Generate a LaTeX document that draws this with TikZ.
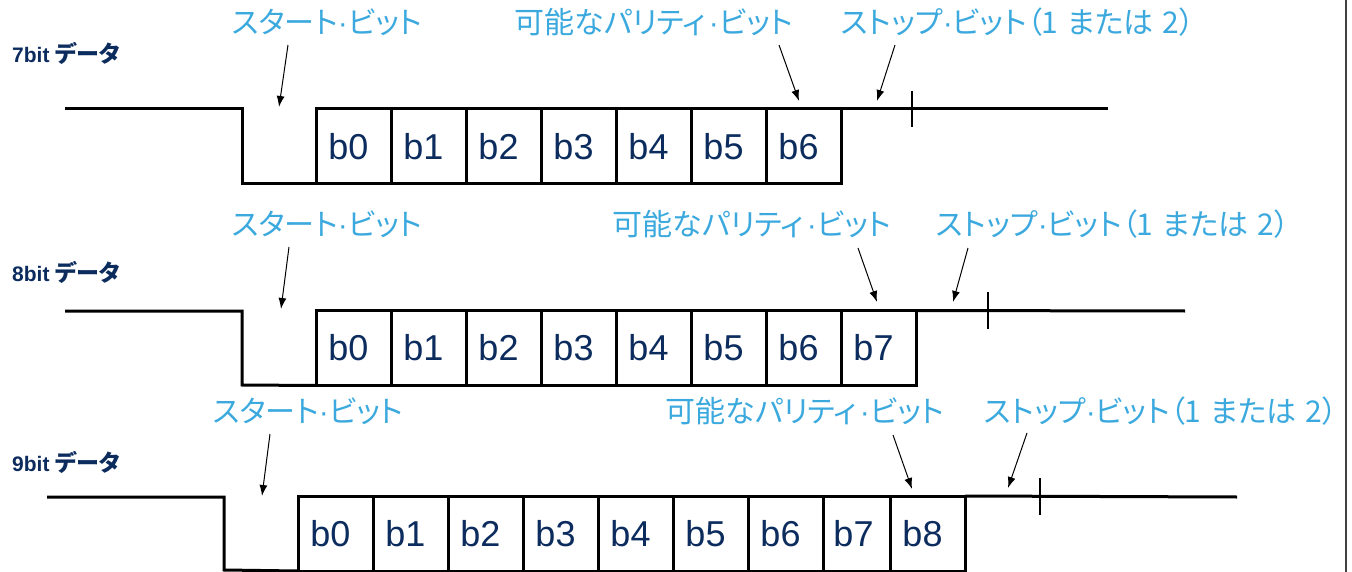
\documentclass[tikz,border=0pt]{standalone}
\usepackage{fontspec}
\setmainfont{Liberation Sans}
\newfontfamily\jp[RawFeature=+palt]{Noto Sans CJK JP}
\usetikzlibrary{arrows.meta}
\definecolor{lblue}{HTML}{3BA9DE}
\definecolor{navy}{HTML}{0C2C5E}
\newcommand{\jpdata}{{\jp\bfseries\fontsize{23}{24}\selectfont データ}}
\newcommand{\mdot}{{\rmfamily ·}}
\newcommand{\starttext}{スタート\mdot ビット}
\newcommand{\partext}{可能なパリティ\kern3pt\mdot ビット}
\newcommand{\stoptext}{ストップ\mdot ビット（1\hspace{0.3em}または\hspace{0.3em}2）}
\tikzset{
  wave/.style={line width=3pt, line join=miter},
  bitbox/.style={draw, line width=3pt, minimum height=75pt, inner sep=0pt, outer sep=0pt,
    font=\fontsize{36}{40}\selectfont, text=navy},
  lbl/.style={text=lblue, font=\jp\fontsize{30}{32}\selectfont, inner sep=0pt},
  rowlbl/.style={text=navy, font=\bfseries\fontsize{21}{24}\selectfont, anchor=west, inner sep=0pt},
  pointer/.style={-{Latex[length=11pt,width=8pt]}, line width=1pt},
  tickmark/.style={line width=1.3pt}
}
\begin{document}
\begin{tikzpicture}[x=1pt,y=-1pt]
\useasboundingbox (0,0) rectangle (1352,572);
\draw[line width=1.5pt, black!75] (1346,0) -- (1346,572);

% ---------- row 1 : 7 bit ----------
\node[rowlbl] (r1lbl) at (12,53) {7bit \jpdata};
\foreach \i in {0,...,6}
  \node[bitbox, minimum width=75pt] (r1b\i) at ({316+75*\i+37.5},146.5) {\hspace*{-10pt}b\i};
\coordinate (r1s) at (65,109);
\coordinate (r1dh) at (242,109);
\coordinate (r1dl) at (242,184);
\coordinate (r1e) at (1108,109);
\draw[wave] (r1s) -- (r1dh) -- (r1dl) -- (r1b0.south west);
\draw[wave] (r1b6.north east) -- (r1e);
\coordinate (r1t1) at (912,91); \coordinate (r1t2) at (912,127);
\draw[tickmark] (r1t1) -- (r1t2);
\node[lbl] (r1start) at (327,22) {\starttext};
\node[lbl] (r1par) at (654,22) {\partext};
\node[lbl] (r1stop) at (1018,22) {\stoptext};
\coordinate (r1a1) at (288,45);  \coordinate (r1a1t) at (279,107);
\coordinate (r1a2) at (779,45);  \coordinate (r1a2t) at (799,101);
\coordinate (r1a3) at (895,45);  \coordinate (r1a3t) at (877,101);
\draw[pointer] (r1a1) -- (r1a1t);
\draw[pointer] (r1a2) -- (r1a2t);
\draw[pointer] (r1a3) -- (r1a3t);

% ---------- row 2 : 8 bit ----------
\node[rowlbl] (r2lbl) at (12,272) {8bit \jpdata};
\foreach \i in {0,...,7}
  \node[bitbox, minimum width=75pt] (r2b\i) at ({316+75*\i+37.5},348) {\hspace*{-10pt}b\i};
\coordinate (r2s) at (65,311);
\coordinate (r2dh) at (242,311);
\coordinate (r2dl) at (242,385);
\coordinate (r2e) at (1185,311);
\draw[wave] (r2s) -- (r2dh) -- (r2dl) -- (r2b0.south west);
\draw[wave] (r2b7.north east) -- (r2e);
\coordinate (r2t1) at (988,292); \coordinate (r2t2) at (988,329);
\draw[tickmark] (r2t1) -- (r2t2);
\node[lbl] (r2start) at (327,224) {\starttext};
\node[lbl] (r2par) at (752,224) {\partext};
\node[lbl] (r2stop) at (1113,224) {\stoptext};
\coordinate (r2a1) at (289,247);  \coordinate (r2a1t) at (281,309);
\coordinate (r2a2) at (858,248);  \coordinate (r2a2t) at (877,302);
\coordinate (r2a3) at (968,248);  \coordinate (r2a3t) at (953,302);
\draw[pointer] (r2a1) -- (r2a1t);
\draw[pointer] (r2a2) -- (r2a2t);
\draw[pointer] (r2a3) -- (r2a3t);

% ---------- row 3 : 9 bit ----------
\node[rowlbl] (r3lbl) at (12,462) {9bit \jpdata};
\foreach \i in {0,...,6}
  \node[bitbox, minimum width=75pt] (r3b\i) at ({298+75*\i+37.5},533.5) {\hspace*{-10pt}b\i};
\node[bitbox, minimum width=67pt] (r3b7) at (856.5,533.5) {\hspace*{-6pt}b7};
\node[bitbox, minimum width=75pt] (r3b8) at (927.5,533.5) {\hspace*{-10pt}b8};
\coordinate (r3s) at (47,497);
\coordinate (r3dh) at (224,497);
\coordinate (r3dl) at (224,570);
\coordinate (r3e) at (1237,497);
\draw[wave] (r3s) -- (r3dh) -- (r3dl) -- (r3b0.south west);
\draw[wave] (r3b8.north east) -- (r3e);
\coordinate (r3t1) at (1040,478); \coordinate (r3t2) at (1040,515);
\draw[tickmark] (r3t1) -- (r3t2);
\node[lbl] (r3start) at (308,411) {\starttext};
\node[lbl] (r3par) at (805,411) {\partext};
\node[lbl] (r3stop) at (1161,411) {\stoptext};
\coordinate (r3a1) at (270,434);  \coordinate (r3a1t) at (262,496);
\coordinate (r3a2) at (893,435);  \coordinate (r3a2t) at (912,489);
\coordinate (r3a3) at (1027,433); \coordinate (r3a3t) at (1008,488);
\draw[pointer] (r3a1) -- (r3a1t);
\draw[pointer] (r3a2) -- (r3a2t);
\draw[pointer] (r3a3) -- (r3a3t);
\end{tikzpicture}
\end{document}
